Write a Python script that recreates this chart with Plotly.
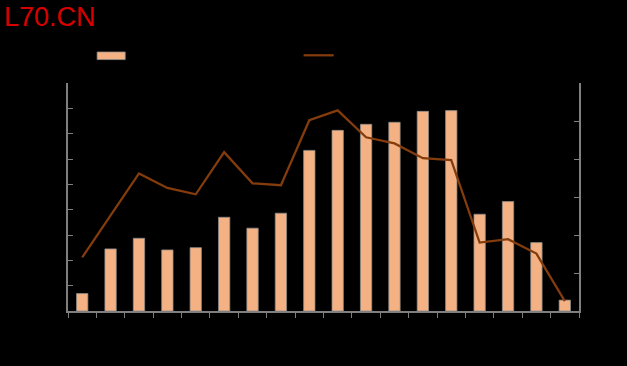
import plotly.graph_objects as go

categories = [str(i) for i in range(1, 19)]
bar_values = [0.69, 2.45, 2.87, 2.41, 2.50, 3.70, 3.27, 3.86, 6.34, 7.13,
              7.37, 7.45, 7.88, 7.91, 3.82, 4.32, 2.70, 0.43]
line_values = [1.41, 2.52, 3.62, 3.24, 3.07, 4.18, 3.36, 3.31, 5.02, 5.28,
               4.57, 4.41, 4.02, 3.97, 1.80, 1.89, 1.51, 0.26]

BAR_COLOR = "#F4B183"
LINE_COLOR = "#843C0C"
AXIS_COLOR = "#7F7F7F"

fig = go.Figure()
fig.add_trace(go.Bar(
    x=categories, y=bar_values, name="bar",
    marker=dict(color=BAR_COLOR, line=dict(color="#8C8C8C", width=0.75)),
    width=0.4, showlegend=False,
))
fig.add_trace(go.Scatter(
    x=categories, y=line_values, name="line", yaxis="y2", mode="lines",
    line=dict(color=LINE_COLOR, width=2.25), showlegend=False,
))

fig.update_layout(
    width=627, height=366,
    paper_bgcolor="black", plot_bgcolor="black",
    margin=dict(l=68, r=48, t=83, b=55),
    font=dict(family="Liberation Sans, Arial, sans-serif", color="black"),
    xaxis=dict(
        type="category", showline=True, linecolor=AXIS_COLOR, linewidth=1.5,
        ticks="outside", ticklen=5, tickcolor=AXIS_COLOR, tickwidth=1,
        tickson="boundaries", showticklabels=False, showgrid=False,
        zeroline=False, range=[-0.5, 17.5],
    ),
    yaxis=dict(
        range=[0, 9], dtick=1, showline=True, linecolor=AXIS_COLOR, linewidth=1.5,
        ticks="inside", ticklen=5, tickcolor=AXIS_COLOR, showticklabels=False,
        showgrid=False, zeroline=False,
    ),
    yaxis2=dict(
        range=[0, 6], dtick=1, overlaying="y", side="right", showline=True,
        linecolor=AXIS_COLOR, linewidth=1.5, ticks="inside", ticklen=5,
        tickcolor=AXIS_COLOR, showticklabels=False, showgrid=False, zeroline=False,
    ),
    bargap=0.6,
    showlegend=False,
)

# Legend swatches (paper coordinates)
fig.add_shape(type="rect", xref="paper", yref="paper",
              x0=0.057, x1=0.112, y0=1.1026, y1=1.136,
              fillcolor=BAR_COLOR, line=dict(color="#8C8C8C", width=0.75))
fig.add_shape(type="line", xref="paper", yref="paper",
              x0=0.461, x1=0.520, y0=1.1215, y1=1.1215,
              line=dict(color=LINE_COLOR, width=2.25))

fig.add_annotation(
    text="L70.CN", xref="paper", yref="paper", x=-0.13, y=1.29,
    xanchor="left", yanchor="middle", showarrow=False,
    font=dict(size=27, color="#D90000", family="Liberation Sans, Arial, sans-serif"),
)

fig.write_html("out.html")
